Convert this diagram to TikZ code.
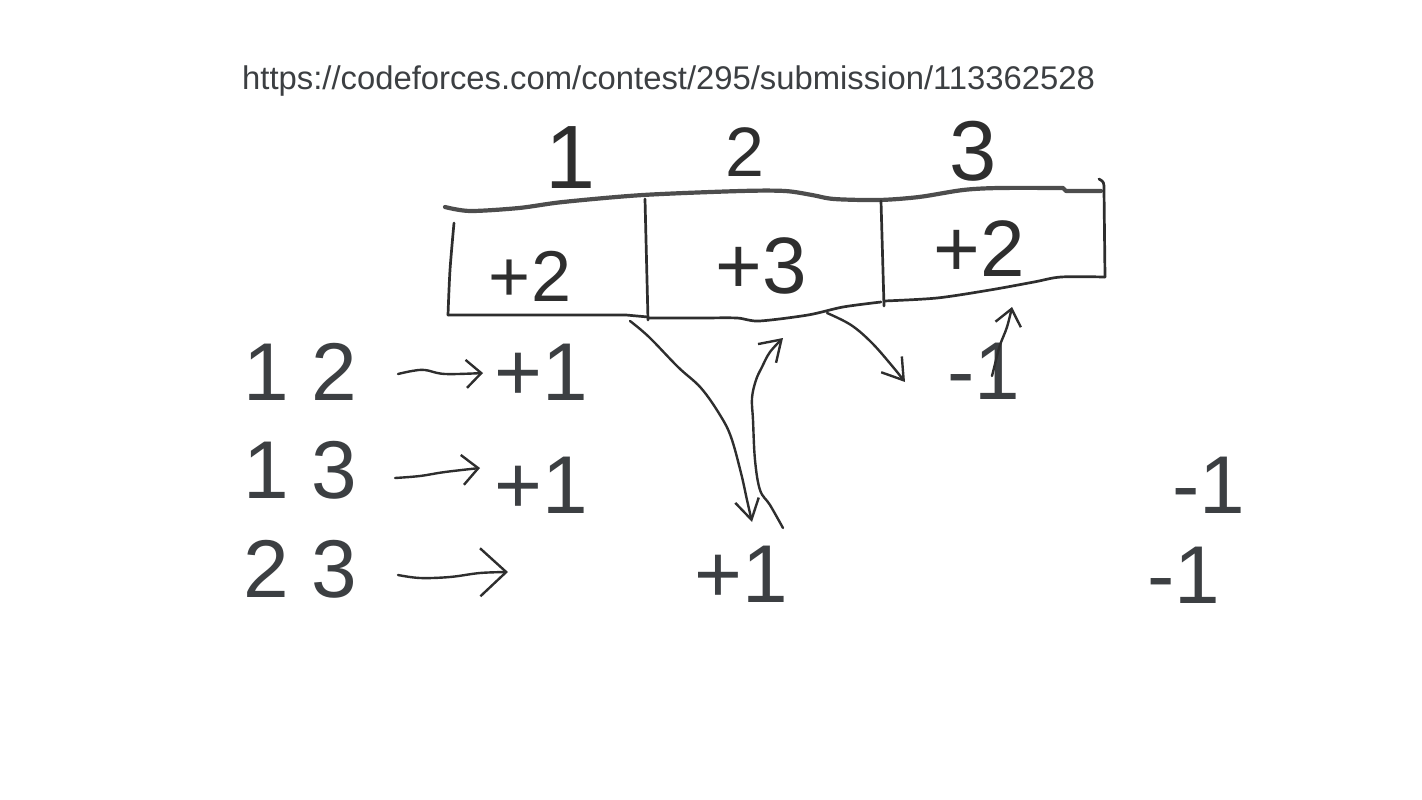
\documentclass[tikz,border=0pt]{standalone}
\usepackage{fontspec}
\setmainfont{Liberation Sans}
\usetikzlibrary{arrows.meta}
\definecolor{txt}{HTML}{3C3F42}
\definecolor{ink}{HTML}{2E2E2E}
\begin{document}
\begin{tikzpicture}[x=1pt,y=-1pt,
  hand/.style={draw=ink, line width=2.4pt, line cap=round, line join=round},
  boxline/.style={hand, line width=2.7pt},
  topline/.style={hand, line width=4.2pt, draw=ink!85},
  printed/.style={inner sep=0pt, anchor=base west, text=txt, font=\fontsize{82}{90}\selectfont},
  urltxt/.style={inner sep=0pt, anchor=base west, text=txt, font=\fontsize{32.8}{36}\selectfont},
  handtxt/.style={inner sep=0pt, anchor=base, text=ink}
]
\useasboundingbox (0,0) rectangle (1422,800);

% URL
\node[urltxt] (url) at (242,89) {https://codeforces.com/contest/295/submission/113362528};

% printed numbers
\node[printed] (q1) at (243,400) {1 2};
\node[printed] (q2) at (243,498) {1 3};
\node[printed] (q3) at (243,597) {2 3};
\node[printed] (p1) at (494,400) {+1};
\node[printed] (p2) at (494,513) {+1};
\node[printed] (p3) at (694,602) {+1};
\node[printed] (m1) at (947,399) {-1};
\node[printed] (m2) at (1172,513) {-1};
\node[printed] (m3) at (1147,603) {-1};

% the box
\draw[topline] plot[smooth,tension=0.5] coordinates {(445,207) (470,211) (519,208) (563,202) (643,195) (741,191) (785,191) (812,195) (834,199) (879,200) (919,197) (963,190) (999,188) (1063,188)} -- (1066,191) -- (1101,191);
\draw[boxline] (1099,179) .. controls (1104,182) .. (1104,190) -- (1105,277);
\draw[boxline] plot[smooth,tension=0.5] coordinates {(1105,277) (1061,277) (1034,282) (990,290) (937,298) (884,301)};
\draw[boxline] plot[smooth,tension=0.5] coordinates {(881,302) (843,307) (808,315) (759,321) (737,318) (700,318) (648,318)};
\draw[boxline] (648,317) -- (626,315) -- (448,315);
\draw[boxline] plot[smooth,tension=0.5] coordinates {(454,223) (450,270) (448,315)};
\draw[boxline] (645,199) -- (648,320);
\draw[boxline] (881,201) -- (884,306);

% handwritten labels
\node[handtxt, font=\fontsize{90}{90}\selectfont] (c1) at (571,188) {1};
\node[handtxt, font=\fontsize{70}{70}\selectfont] (c2) at (745,176) {2};
\node[handtxt, font=\fontsize{85}{85}\selectfont] (c3) at (973,180) {3};
\node[handtxt, font=\fontsize{72}{72}\selectfont] (v1) at (530,301) {+2};
\node[handtxt, font=\fontsize{80}{80}\selectfont] (v2) at (761,293) {+3};
\node[handtxt, font=\fontsize{80}{80}\selectfont] (v3) at (979,276) {+2};

% arrows
\coordinate (r1s) at (398,374); \coordinate (r1e) at (483,373);
\coordinate (r2s) at (395,478); \coordinate (r2e) at (480,468);
\coordinate (r3s) at (398,575); \coordinate (r3e) at (508,572);
\coordinate (a4s) at (630,321); \coordinate (a4e) at (752,522);
\coordinate (a5s) at (783,528); \coordinate (a5e) at (783,338);
\coordinate (a6s) at (827,313); \coordinate (a6e) at (905,382);
\coordinate (a7s) at (992,376); \coordinate (a7e) at (1012,307);

\draw[hand, -{Straight Barb[length=15pt,width=28pt]}] plot[smooth,tension=0.6] coordinates {(r1s) (412,371) (425,370) (445,374) (r1e)};
\draw[hand, -{Straight Barb[length=16pt,width=30pt]}] plot[smooth,tension=0.6] coordinates {(r2s) (420,476) (445,472) (r2e)};
\draw[hand, -{Straight Barb[length=26pt,width=48pt]}] plot[smooth,tension=0.6] coordinates {(r3s) (420,578) (450,577) (480,573) (r3e)};
\draw[hand, -{Straight Barb[length=20pt,width=24pt]}] plot[smooth,tension=0.6] coordinates {(a4s) (649,337) (678,367) (701,388) (720,415) (731,437) (741,473) (747,500) (a4e)};
\draw[hand, -{Straight Barb[length=20pt,width=26pt]}] plot[smooth,tension=0.6] coordinates {(a5s) (770,505) (760,490) (755,460) (753,420) (752,398) (756,380) (762,367) (770,352) (a5e)};
\draw[hand, -{Straight Barb[length=20pt,width=26pt]}] plot[smooth,tension=0.6] coordinates {(a6s) (851,325) (872,343) (893,367) (a6e)};
\draw[hand, -{Straight Barb[length=16pt,width=26pt]}] plot[smooth,tension=0.6] coordinates {(a7s) (996,360) (1000,345) (1007,327) (a7e)};
\end{tikzpicture}
\end{document}
